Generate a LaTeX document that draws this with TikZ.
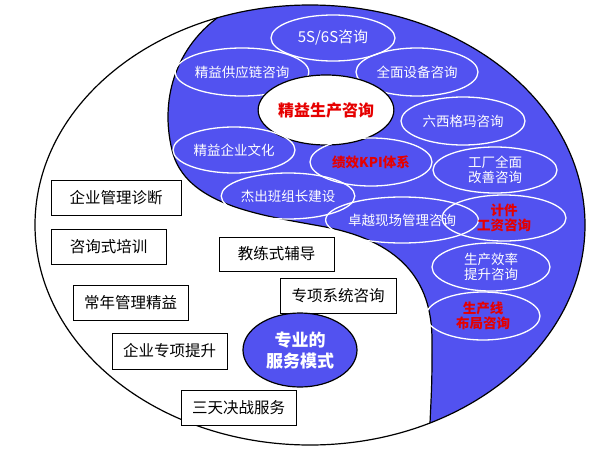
\documentclass[tikz,border=0pt]{standalone}
\usepackage{fontspec}
\setmainfont{Noto Sans CJK SC}
\usetikzlibrary{shapes.geometric}
\definecolor{yblue}{RGB}{82,82,240}
\definecolor{yred}{RGB}{230,0,0}
\begin{document}
\begin{tikzpicture}[x=1pt,y=-1pt,
  ov/.style={ellipse,draw=white,line width=1.3pt,inner sep=0pt,text=white,font=\fontsize{13.5}{15}\selectfont,align=center},
  rv/.style={ov,text=yred,font=\bfseries\fontsize{13.5}{15.5}\selectfont},
  bx/.style={draw=black,line width=1pt,fill=white,inner sep=0pt,font=\fontsize{15.5}{17}\selectfont}]
\useasboundingbox (0,0) rectangle (600,450);
\begin{scope}
\clip (310,225) ellipse [x radius=275, y radius=220];
\fill[yblue] (217,18) .. controls (175,50) and (160,100) .. (172,150) .. controls (185,205) and (260,215) .. (320,226) .. controls (400,240) and (432,280) .. (432,340) .. controls (432,380) .. (430,423) -- (430,460) -- (620,460) -- (620,-10) -- (217,-10) -- cycle;
\end{scope}
\draw[line width=1.2pt] (217,18) .. controls (175,50) and (160,100) .. (172,150) .. controls (185,205) and (260,215) .. (320,226) .. controls (400,240) and (432,280) .. (432,340) .. controls (432,380) .. (430,423);
\draw[line width=1.2pt] (310,225) ellipse [x radius=275, y radius=220];

\node[ov,minimum width=124,minimum height=46,font=\fontsize{15}{17}\selectfont] (s5) at (333,38) {5S/6S咨询};
\node[ov,minimum width=124,minimum height=48] (gy) at (242,72) {精益供应链咨询};
\node[ov,minimum width=122,minimum height=48] (sb) at (417,72) {全面设备咨询};
\node[ellipse,draw=black,line width=1.2pt,fill=white,minimum width=108,minimum height=70,inner sep=0pt,text=yred,font=\bfseries\fontsize{16}{18}\selectfont] (jy) at (326,110) {精益生产咨询};
\node[ov,minimum width=124,minimum height=48] (lx) at (463,121) {六西格玛咨询};
\node[ov,minimum width=122,minimum height=46] (wh) at (234,150) {精益企业文化};
\node[rv,minimum width=122,minimum height=48] (kpi) at (371,162) {绩效KPI体系};
\node[ov,minimum width=124,minimum height=46,font=\fontsize{13.5}{15.5}\selectfont] (gc) at (495,170) {工厂全面\\改善咨询};
\node[ov,minimum width=122,minimum height=46] (bz) at (288,196) {杰出班组长建设};
\node[ov,minimum width=120,minimum height=46] (xc) at (402,220) {卓越现场管理咨询};
\node[rv,minimum width=124,minimum height=46] (jj) at (504,218) {计件\\工资咨询};
\node[ov,minimum width=118,minimum height=48,font=\fontsize{13.5}{15.5}\selectfont] (xl) at (491,267) {生产效率\\提升咨询};
\node[rv,minimum width=114,minimum height=48] (bj) at (483,316) {生产线\\布局咨询};

\node[bx,minimum width=130,minimum height=35] (b1) at (116,197.5) {企业管理诊断};
\node[bx,minimum width=115,minimum height=35] (b2) at (108.5,246.5) {咨询式培训};
\node[bx,minimum width=115,minimum height=34] (b3) at (276.5,254) {教练式辅导};
\node[bx,minimum width=116,minimum height=35] (b4) at (338,295.5) {专项系统咨询};
\node[bx,minimum width=115,minimum height=35] (b5) at (130.5,302.5) {常年管理精益};
\node[bx,minimum width=115,minimum height=36] (b6) at (169.5,351) {企业专项提升};
\node[bx,minimum width=115,minimum height=35] (b7) at (238.5,407.5) {三天决战服务};
\node[ellipse,draw=black,line width=1.2pt,fill=yblue,minimum width=114,minimum height=74,inner sep=0pt,text=white,align=center,font=\bfseries\fontsize{17}{21}\selectfont] (fw) at (300,350) {专业的\\服务模式};
\end{tikzpicture}
\end{document}
